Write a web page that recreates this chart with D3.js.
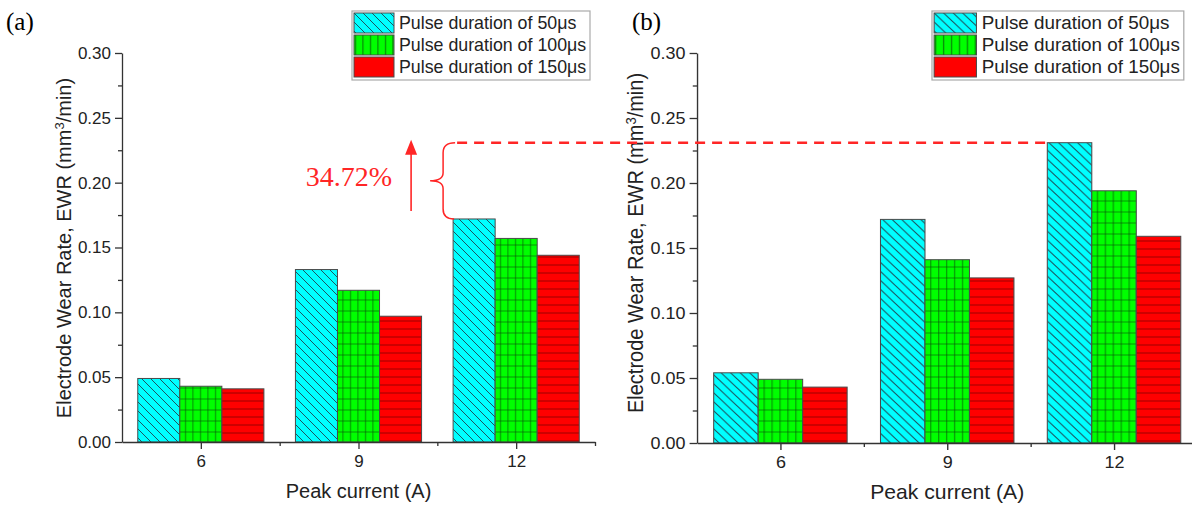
<!DOCTYPE html>
<html>
<head>
<meta charset="utf-8">
<script src="https://cdn.jsdelivr.net/npm/d3@7"></script>
<style>
  body { margin: 0; background: #fff; }
  svg { display: block; }
  .axis text { font-family: Arial, "Liberation Sans", sans-serif; fill: #222; }
  .axis path, .axis line { stroke: #333; stroke-width: 1.3; }
</style>
</head>
<body>
<svg id="chart" width="1192" height="506"></svg>
<script>
// data
var categories = [6, 9, 12];
var seriesNames = ["Pulse duration of 50μs", "Pulse duration of 100μs", "Pulse duration of 150μs"];
// panel (a)
var ewrA50 = [0.049, 0.133, 0.172];
var ewrA100 = [0.043, 0.117, 0.157];
var ewrA150 = [0.041, 0.097, 0.144];
// panel (b)
var ewrB50 = [0.054, 0.172, 0.231];
var ewrB100 = [0.049, 0.141, 0.194];
var ewrB150 = [0.043, 0.127, 0.159];
var yTicks = [0, 0.05, 0.1, 0.15, 0.2, 0.25, 0.3];
var yMinor = [0.025, 0.075, 0.125, 0.175, 0.225, 0.275];
var xMinor = [7.5, 10.5, 13.5];
var increaseLabel = "34.72%";

var fills = ["#00ffff", "#00ff00", "#ff0000"];

let svg = d3.select("svg#chart");
let defs = svg.append("defs");

// hatch patterns
let p0 = defs.append("pattern").attr("id", "hatch-cyan")
  .attr("patternUnits", "userSpaceOnUse").attr("width", 9).attr("height", 9);
p0.append("rect").attr("width", 9).attr("height", 9).attr("fill", fills[0]);
p0.append("path").attr("d", "M-1,-1 L10,10 M-1,8 L1,10 M8,-1 L10,1")
  .attr("stroke", "#1c5560").attr("stroke-width", 1);

let p1 = defs.append("pattern").attr("id", "hatch-green")
  .attr("patternUnits", "userSpaceOnUse").attr("width", 7.5).attr("height", 11);
p1.append("rect").attr("width", 7.5).attr("height", 11).attr("fill", fills[1]);
p1.append("line").attr("x1", 3.5).attr("x2", 3.5).attr("y1", 0).attr("y2", 11)
  .attr("stroke", "#0a4a0a").attr("stroke-width", 1).attr("opacity", 0.65);
p1.append("line").attr("x1", 0).attr("x2", 7.5).attr("y1", 5).attr("y2", 5)
  .attr("stroke", "#0a4a0a").attr("stroke-width", 1).attr("opacity", 0.6);

let p1l = defs.append("pattern").attr("id", "hatch-green-leg")
  .attr("patternUnits", "userSpaceOnUse").attr("width", 7.5).attr("height", 8);
p1l.append("rect").attr("width", 7.5).attr("height", 8).attr("fill", fills[1]);
p1l.append("line").attr("x1", 3.5).attr("x2", 3.5).attr("y1", 0).attr("y2", 8)
  .attr("stroke", "#0a4a0a").attr("stroke-width", 1).attr("opacity", 0.8);

let p2 = defs.append("pattern").attr("id", "hatch-red")
  .attr("patternUnits", "userSpaceOnUse").attr("width", 8).attr("height", 8);
p2.append("rect").attr("width", 8).attr("height", 8).attr("fill", fills[2]);
p2.append("line").attr("x1", 0).attr("x2", 8).attr("y1", 4).attr("y2", 4)
  .attr("stroke", "#5a0000").attr("stroke-width", 1).attr("opacity", 0.6);

var barFills = ["url(#hatch-cyan)", "url(#hatch-green)", "url(#hatch-red)"];
var legFills = ["url(#hatch-cyan)", "url(#hatch-green-leg)", fills[2]];

// panel (b) of the source figure is stretched sideways, so each panel gets an x stretch
function drawPanel(opt) {
  let g = svg.append("g")
    .attr("transform", "translate(" + opt.left + "," + opt.top + ") scale(" + opt.sx + ",1)");
  let width = 473, height = opt.height;

  let xScale = d3.scaleLinear().domain([4.5, 13.5]).range([0, width]);
  let yScale = d3.scaleLinear().domain([0, 0.3]).range([height, 0]);
  let barW = 0.8; // in x units

  // bars
  opt.series.forEach(function (vals, s) {
    g.selectAll(".bar-" + s)
      .data(vals)
      .enter()
      .append("rect")
      .attr("class", "bar-" + s)
      .attr("x", function (d, i) { return xScale(categories[i] - 1.5 * barW + s * barW); })
      .attr("y", function (d) { return yScale(d); })
      .attr("width", xScale(4.5 + barW) - xScale(4.5))
      .attr("height", function (d) { return height - yScale(d); })
      .style("fill", barFills[s])
      .style("stroke", "#4a4a4a")
      .style("stroke-width", 1);
  });

  // axes
  g.append("g").attr("class", "axis")
    .call(d3.axisLeft(yScale).tickValues(yMinor).tickSize(4).tickFormat(""))
    .select(".domain").remove();
  g.append("g").attr("class", "axis")
    .call(d3.axisLeft(yScale).tickValues(yTicks).tickSizeInner(7).tickSizeOuter(0)
      .tickPadding(4).tickFormat(d3.format(".2f")))
    .selectAll("text").style("font-size", "17px");

  g.append("g").attr("class", "axis")
    .attr("transform", "translate(0," + height + ")")
    .call(d3.axisBottom(xScale).tickValues(xMinor).tickSize(4).tickFormat(""))
    .select(".domain").remove();
  g.append("g").attr("class", "axis")
    .attr("transform", "translate(0," + height + ")")
    .call(d3.axisBottom(xScale).tickValues(categories).tickSizeInner(7).tickSizeOuter(0).tickPadding(6))
    .selectAll("text").style("font-size", "17px");

  // axis titles
  g.append("text")
    .attr("x", width / 2).attr("y", height + 56)
    .attr("text-anchor", "middle")
    .style("font-family", "Arial, 'Liberation Sans', sans-serif")
    .style("font-size", "20px").style("fill", "#222")
    .text("Peak current (A)");

  let yt = g.append("text")
    .attr("transform", "translate(-51," + opt.yTitleY + ") rotate(-90)")
    .attr("text-anchor", "middle")
    .style("font-family", "Arial, 'Liberation Sans', sans-serif")
    .style("font-size", "20px").style("fill", "#222");
  yt.append("tspan").text("Electrode Wear Rate, EWR (mm");
  yt.append("tspan").attr("baseline-shift", "super").style("font-size", "13px").text("3");
  yt.append("tspan").text("/min)");

  // panel label
  svg.append("text")
    .attr("x", opt.tagX).attr("y", 30)
    .style("font-family", "'Liberation Serif', 'Times New Roman', serif")
    .style("font-size", "25px")
    .text(opt.tag);

  // legend
  let lg = svg.append("g")
    .attr("transform", "translate(" + opt.legX + ",11) scale(" + opt.sx + ",1)");
  lg.append("rect").attr("width", 238).attr("height", 69)
    .style("fill", "#fff").style("stroke", "#aaa").style("stroke-width", 1.2);
  seriesNames.forEach(function (name, s) {
    lg.append("rect")
      .attr("x", 2).attr("y", 2 + s * 22)
      .attr("width", 40).attr("height", 20)
      .style("fill", legFills[s]).style("stroke", "#4a4a4a").style("stroke-width", 1);
    lg.append("text")
      .attr("x", 47).attr("y", 18 + s * 22)
      .style("font-family", "Arial, 'Liberation Sans', sans-serif")
      .style("font-size", "17.8px").style("fill", "#222")
      .text(name);
  });

  // page x of a data x value
  let px = function (v) { return opt.left + opt.sx * xScale(v); };
  let py = function (v) { return opt.top + yScale(v); };
  return { px: px, py: py };
}

let pa = drawPanel({
  left: 122, top: 53, sx: 1, height: 389,
  series: [ewrA50, ewrA100, ewrA150],
  yTitleY: 195, tag: "(a)", tagX: 6, legX: 352
});
let pb = drawPanel({
  left: 697, top: 53, sx: 1.058, height: 390,
  series: [ewrB50, ewrB100, ewrB150],
  yTitleY: 190, tag: "(b)", tagX: 632, legX: 932
});

// annotation: increase of the 12 A / 50 μs bar from (a) to (b)
let red = "#ff2626";
let ann = svg.append("g");
let yTop = pb.py(ewrB50[2]);
let yBot = pa.py(ewrA50[2]);
let barLeftA = pa.px(categories[2] - 1.2);
let barLeftB = pb.px(categories[2] - 1.2);
let bx = barLeftA - 10, ym = (yTop + yBot) / 2;

ann.append("path")
  .attr("d", "M" + (barLeftA + 2) + "," + yTop +
    " Q" + bx + "," + yTop + " " + bx + "," + (yTop + 10) +
    " L" + bx + "," + (ym - 8) +
    " Q" + bx + "," + ym + " " + (bx - 13) + "," + ym +
    " Q" + bx + "," + ym + " " + bx + "," + (ym + 8) +
    " L" + bx + "," + (yBot - 10) +
    " Q" + bx + "," + yBot + " " + (barLeftA + 1) + "," + yBot)
  .style("fill", "none").style("stroke", red).style("stroke-width", 1.5);

ann.append("line")
  .attr("x1", barLeftA + 4).attr("x2", barLeftB - 2)
  .attr("y1", yTop).attr("y2", yTop)
  .style("stroke", red).style("stroke-width", 2.5)
  .style("stroke-dasharray", "10,7");

let ax = bx - 32;
ann.append("line")
  .attr("x1", ax).attr("x2", ax).attr("y1", yBot - 8).attr("y2", yTop + 10)
  .style("stroke", red).style("stroke-width", 1.6);
ann.append("path")
  .attr("d", "M" + ax + "," + (yTop - 3) + " L" + (ax - 6) + "," + (yTop + 12) + " L" + (ax + 6) + "," + (yTop + 12) + " Z")
  .style("fill", red);

ann.append("text")
  .attr("x", ax - 19).attr("y", ym + 5)
  .attr("text-anchor", "end")
  .style("font-family", "'Liberation Serif', 'Times New Roman', serif")
  .style("font-size", "28px").style("fill", red)
  .text(increaseLabel);
</script>
</body>
</html>
